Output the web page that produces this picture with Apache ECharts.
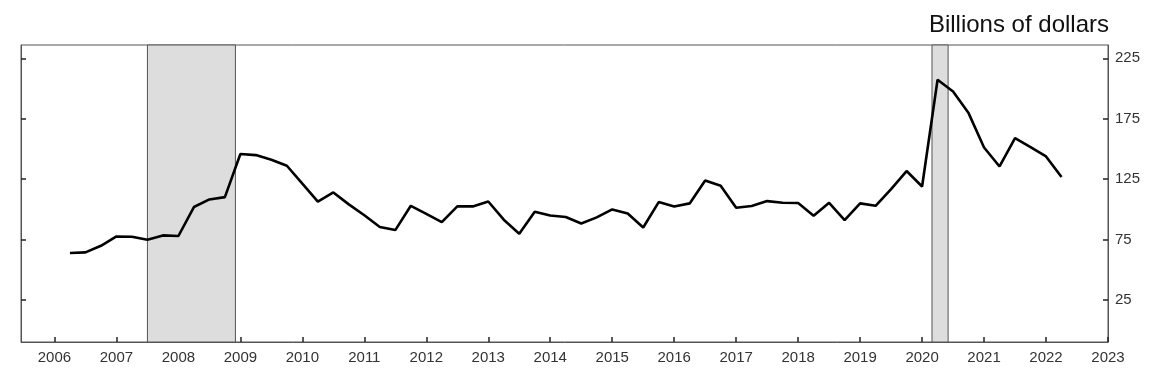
<!DOCTYPE html>
<html>
<head>
<meta charset="utf-8">
<script src="https://cdn.jsdelivr.net/npm/echarts@6/dist/echarts.min.js"></script>
<style>
html,body{margin:0;padding:0;background:#fff;}
#chart{width:1150px;height:380px;}
</style>
</head>
<body>
<div id="chart"></div>
<script>
// Quarterly observations, first at 2006.25, step one quarter
const firstPeriod = 2006.25;
const values = [
  63.7, 64.2, 69.7, 77.4, 77.2, 74.7, 78.3, 77.8, 101.8, 108.1, 110.0,
  145.7, 144.8, 141.0, 136.0, 121.1, 106.3, 113.9, 104.0, 95.0, 85.2, 82.7,
  102.8, 96.2, 89.3, 102.3, 102.3, 106.4, 91.3, 79.7, 97.9, 94.8, 93.5,
  88.2, 93.2, 99.8, 96.5, 84.8, 105.9, 102.3, 104.8, 123.8, 119.4, 101.2,
  102.6, 106.7, 105.3, 105.1, 94.6, 105.3, 91.0, 104.8, 102.8, 116.7, 131.6,
  118.8, 207.2, 197.5, 179.6, 151.1, 135.4, 158.9, 151.5, 143.7, 126.6
];
const recessions = [[2007.5, 2008.92], [2020.16, 2020.42]];
const xTicks = [2006,2007,2008,2009,2010,2011,2012,2013,2014,2015,2016,2017,2018,2019,2020,2021,2022,2023];
const yTicks = [25, 75, 125, 175, 225];
const unitLabel = 'Billions of dollars';

const seriesData = values.map((v, i) => [firstPeriod + i * 0.25, v]);

const chart = echarts.init(document.getElementById('chart'), null, {renderer: 'canvas'});
const font = 'Liberation Sans, Arial, Helvetica, sans-serif';
const axisColor = '#555';

const yCommon = {
  type: 'value', min: -10, max: 236,
  splitLine: {show: false},
  axisLine: {show: true, onZero: false, lineStyle: {color: axisColor, width: 1}},
  axisTick: {show: true, inside: true, length: 5, customValues: yTicks, lineStyle: {color: '#222', width: 1.5}},
};

chart.setOption({
  animation: false,
  title: {
    text: unitLabel, right: 36, top: 8,
    textStyle: {fontFamily: font, fontSize: 24, fontWeight: 'normal', color: '#111'}
  },
  grid: {left: 21, right: 42, top: 45, bottom: 38, show: true, borderColor: axisColor, borderWidth: 1, containLabel: false},
  xAxis: {
    type: 'value', min: 2005.46, max: 2023,
    splitLine: {show: false},
    axisLine: {show: true, onZero: false, lineStyle: {color: axisColor, width: 1}},
    axisTick: {show: true, inside: true, length: 5, customValues: xTicks, lineStyle: {color: '#222', width: 1.5}},
    axisLabel: {customValues: xTicks, margin: 8, fontFamily: font, fontSize: 15, color: '#333', formatter: v => String(Math.round(v))}
  },
  yAxis: [
    Object.assign({}, yCommon, {position: 'right',
      axisLabel: {customValues: yTicks, margin: 7, fontFamily: font, fontSize: 15, color: '#333'}}),
    Object.assign({}, yCommon, {position: 'left', axisLabel: {show: false}})
  ],
  series: [{
    type: 'line',
    yAxisIndex: 0,
    data: seriesData,
    showSymbol: false,
    lineStyle: {color: '#000', width: 2.6},
    z: 3,
    markArea: {
      silent: true,
      itemStyle: {color: '#dddddd', borderColor: '#555', borderWidth: 1},
      data: recessions.map(r => [{xAxis: r[0]}, {xAxis: r[1]}])
    }
  }]
});
</script>
</body>
</html>
